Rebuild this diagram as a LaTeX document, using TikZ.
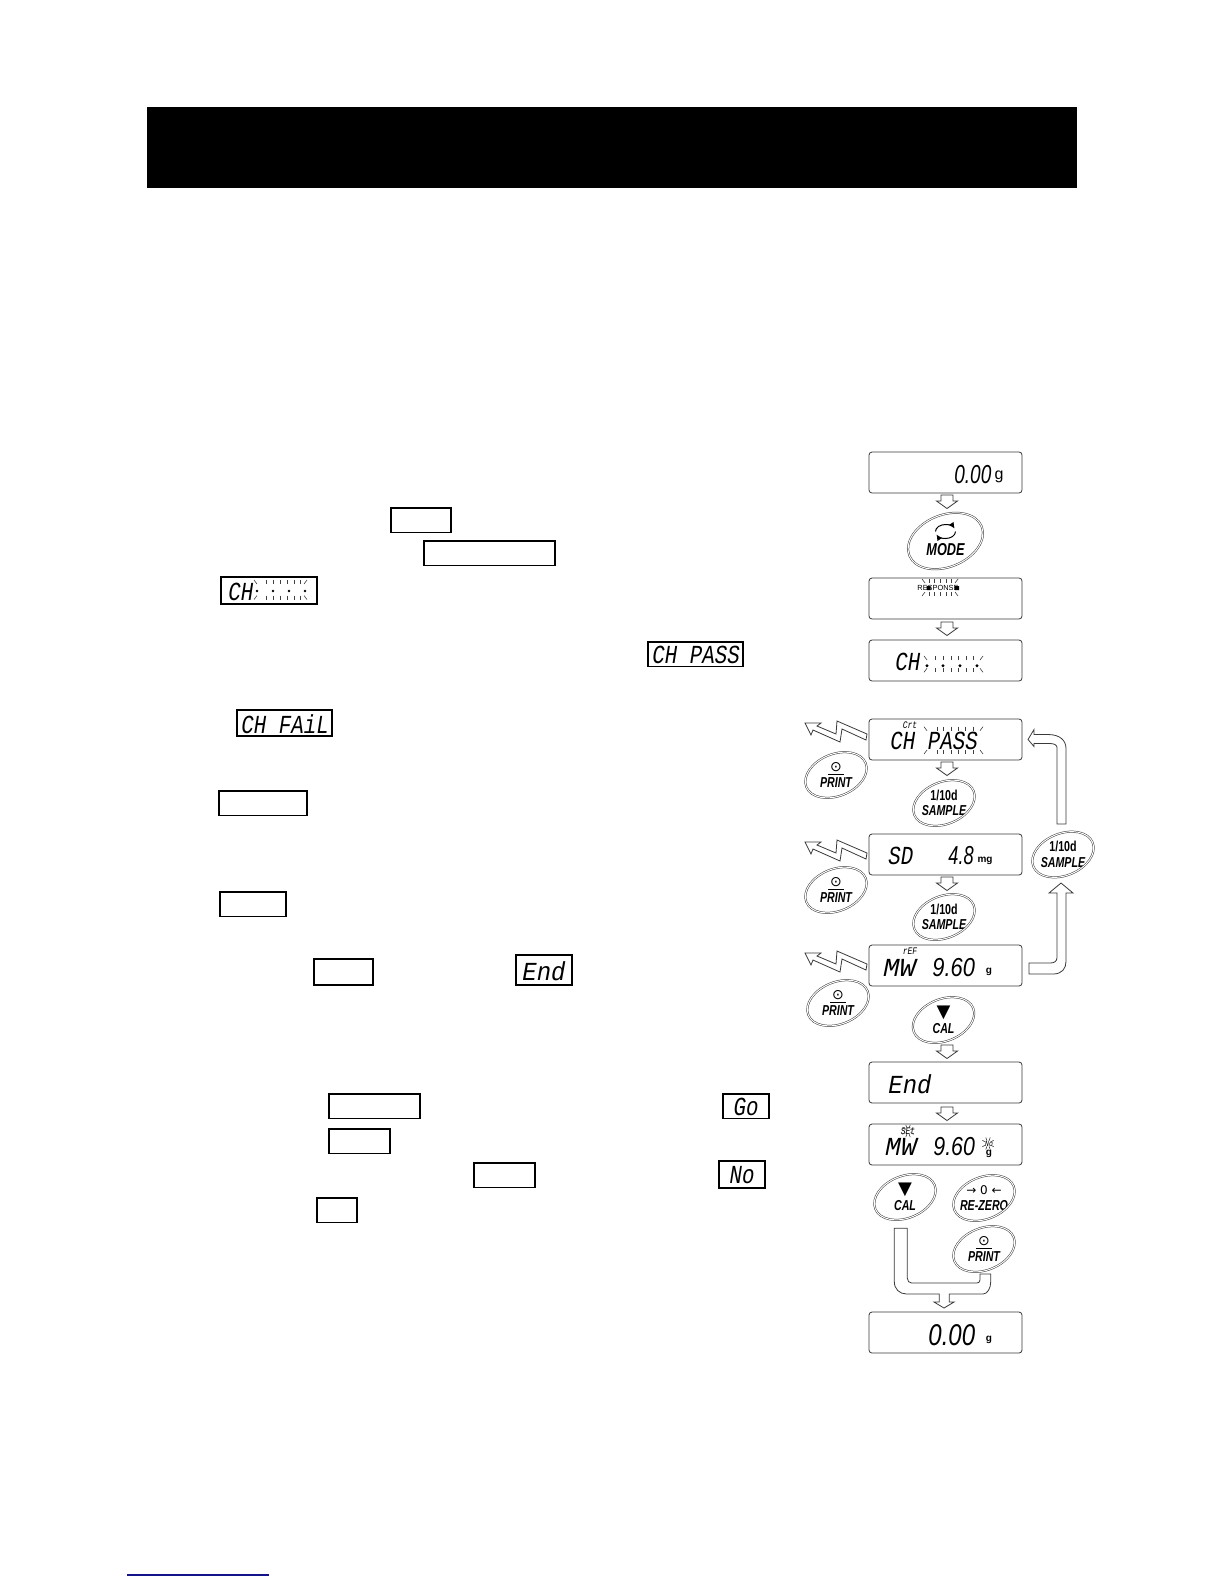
\documentclass[tikz,border=0pt]{standalone}
\usepackage{fontspec}
\setmainfont{Liberation Sans}
\newfontfamily\keyfont[FakeStretch=0.74]{Liberation Sans}
\newfontfamily\lcdfont[FakeStretch=0.8]{Liberation Mono}
\newfontfamily\symfont{DejaVu Sans}
\usetikzlibrary{arrows.meta,calc,positioning}
\definecolor{linkblue}{HTML}{14148A}
\definecolor{rim}{HTML}{3A3A3A}
\tikzset{
  lcd/.style={rounded corners=1.5bp,draw=rim,line width=.4bp,minimum width=76.5bp,minimum height=20.5bp,inner sep=0pt,outer sep=0pt},
  keybox/.style={draw=black,line width=.6bp,anchor=north west,minimum height=12.25bp,inner sep=0pt,outer sep=0pt},
  lcdtext/.style={inner sep=0pt,anchor=west,font=\lcdfont\itshape\fontsize{13bp}{13bp}\selectfont},
  numtext/.style={inner sep=0pt,anchor=west,font=\itshape\fontsize{13bp}{13bp}\selectfont},
  tinytext/.style={inner sep=0pt,font=\lcdfont\itshape\fontsize{5bp}{5bp}\selectfont},
  unittext/.style={inner sep=0pt,font=\bfseries\fontsize{5bp}{5bp}\selectfont},
  keytext/.style={inner sep=0pt,align=center,font=\keyfont\bfseries\itshape\fontsize{7.2bp}{7.8bp}\selectfont},
  keyrim/.style={draw=rim,line width=.25bp,double,double distance=.5bp},
  flowline/.style={draw=rim,line width=.4bp,fill=white},
  lcdtick/.style={draw=black!75,line width=.3bp},
  downflow/.pic={\draw[flowline] (-6,0)--(6,0)--(6,6)--(10.5,6)--(0,13.5)--(-10.5,6)--(-6,6)--cycle;},
  bolt/.pic={\draw[flowline] (0,0)--(16,0)--(12,3)--(31,11)--(32,-2)--(62,11)--(61,17)--(37,6)--(35,19)--(8,7)--(6,12)--cycle;}
}
\newcommand{\printmark}{\underline{\hbox to 8bp{\hss\symfont\mdseries\upshape\fontsize{7bp}{7bp}\selectfont ⊙\hss}}}
\newcommand{\caltri}{{\symfont\mdseries\upshape\fontsize{9bp}{7.8bp}\selectfont ▼}}
\newcommand{\squeeze}[2]{\scalebox{#1}[1]{#2}}
\newcommand{\blink}[5]{
  \draw[lcdtick] (#1-3,#3)--(#1,#3+4) (#2+3,#3)--(#2,#3+4) (#1,#4)--(#1-3,#4+4) (#2,#4)--(#2+3,#4+4);
  \foreach \tx in {#5} \draw[lcdtick] (\tx,#3)--+(0,4) (\tx,#4)--+(0,4);
}
\newcommand{\miniblink}[2]{
  \foreach \ang in {30,70,110,150,210,250,290,330} \draw[lcdtick] ($(#1,#2)+(\ang:3)$)--($(#1,#2)+(\ang:6.5)$);
}
\begin{document}
\begin{tikzpicture}[x=.5bp,y=-.5bp,>=Latex]
  \useasboundingbox (0,0) rectangle (1224,1584);
  \fill[white] (0,0) rectangle (1224,1584);
  \node[fill=black,minimum width=464.5bp,minimum height=40.5bp,inner sep=0pt] (header) at (612,147.5) {};

  \node[keybox,minimum width=30bp] (box1) at (391,508) {};
  \node[keybox,minimum width=65.5bp] (box2) at (424,541) {};
  \node[keybox,minimum width=48bp,minimum height=13.5bp] (chblink) at (221,577) {};
  \node[keybox,minimum width=47.5bp] (chpass) at (648,642) {};
  \node[keybox,minimum width=47.5bp,minimum height=13bp] (chfail) at (237,710) {};
  \node[keybox,minimum width=44bp] (box3) at (219,791) {};
  \node[keybox,minimum width=33bp] (box4) at (220,892) {};
  \node[keybox,minimum width=29.5bp,minimum height=13bp] (box5) at (314,959) {};
  \node[keybox,minimum width=28bp,minimum height=15bp] (endbox) at (516,955) {};
  \node[keybox,minimum width=45.5bp] (box6) at (329,1094) {};
  \node[keybox,minimum width=23bp] (gobox) at (723,1094) {};
  \node[keybox,minimum width=30.5bp] (box7) at (329,1129) {};
  \node[keybox,minimum width=30.5bp] (box8) at (474,1163) {};
  \node[keybox,minimum width=23bp,minimum height=13.5bp] (nobox) at (719,1161) {};
  \node[keybox,minimum width=20bp] (box9) at (317,1198) {};

  \node[lcdtext] (chblinkt) at ($(chblink.west)+(7,1)$) {CH};
  \node[lcdtext] (chpasst) at ($(chpass.west)+(4,1)$) {CH PASS};
  \node[lcdtext] (chfailt) at ($(chfail.west)+(4,1)$) {CH FAiL};
  \node[lcdtext,anchor=center] (endt) at ($(endbox.center)+(0,1)$) {\squeeze{1.15}{End}};
  \node[lcdtext,anchor=center] (got) at ($(gobox.center)+(0,1)$) {Go};
  \node[lcdtext,anchor=center] (not) at ($(nobox.center)+(0,1)$) {No};
  \blink{257}{304}{580}{595.5}{266,273,280,287,294,300}
  \foreach \dx in {257,273,289,305} \fill[black] (\dx,591) circle (.7bp);

  \node[lcd] (d1) at (945.5,472.5) {};
  \node[lcd,below=42.5bp of d1] (d2) {};
  \node[lcd,below=10.5bp of d2] (d3) {};
  \node[lcd,below=19bp of d3] (d4) {};
  \node[lcd,below=37bp of d4] (d5) {};
  \node[lcd,below=35bp of d5] (d6) {};
  \node[lcd,below=38bp of d6] (d7) {};
  \node[lcd,below=10.5bp of d7] (d8) {};
  \node[lcd,below=73.5bp of d8] (d9) {};

  \node[numtext] (d1num) at ($(d1.west)+(85,2.5)$) {\squeeze{.73}{0.00}};
  \node[unittext,font=\fontsize{8bp}{8bp}\selectfont] (d1unit) at ($(d1.west)+(130,4)$) {g};
  \node[inner sep=0pt,font=\fontsize{3.7bp}{4bp}\selectfont] (d2t) at ($(d2.west)+(69,-11)$) {RESPONSE};
  \blink{925}{955}{579}{592}{929,934,940,946,951}
  \fill[black] (926.5,586) rectangle +(4,4) (955,586) rectangle +(4,4);
  \node[lcdtext] (d3t) at ($(d3.west)+(26,1)$) {CH};
  \blink{927}{980}{656}{668.3}{935,943,951,958,966,973}
  \foreach \dx in {927,943,960,977} \fill[black] (\dx,665.7) circle (.8bp);
  \node[tinytext] (d4small) at ($(d4.west)+(41,-14.5)$) {Crt};
  \node[lcdtext] (d4t) at ($(d4.west)+(21,1.5)$) {CH PASS};
  \blink{927}{980}{726.7}{750}{937,943,951,958,965,973}
  \node[lcdtext] (d5t) at ($(d5.west)+(19,1)$) {SD};
  \node[numtext] (d5num) at ($(d5.west)+(79,1)$) {\squeeze{.7}{4.8}};
  \node[unittext] (d5unit) at ($(d5.west)+(116,6)$) {mg};
  \node[tinytext] (d6small) at ($(d6.west)+(41,-14)$) {rEF};
  \node[lcdtext] (d6t) at ($(d6.west)+(14,2)$) {\squeeze{1.3}{MW}};
  \node[numtext] (d6num) at ($(d6.west)+(63,2)$) {\squeeze{.84}{9.60}};
  \node[unittext] (d6unit) at ($(d6.west)+(120,6)$) {g};
  \node[lcdtext] (d7t) at ($(d7.west)+(19,2)$) {\squeeze{1.15}{End}};
  \node[tinytext] (d8small) at ($(d8.west)+(39,-13)$) {SEt};
  \miniblink{908}{1131}
  \node[lcdtext] (d8t) at ($(d8.west)+(16,2)$) {\squeeze{1.25}{MW}};
  \node[numtext] (d8num) at ($(d8.west)+(64,2)$) {\squeeze{.82}{9.60}};
  \node[tinytext,font=\lcdfont\itshape\fontsize{4bp}{4bp}\selectfont] (d8no) at ($(d8.west)+(120,-1)$) {No};
  \miniblink{988}{1143.5}
  \node[unittext] (d8unit) at ($(d8.west)+(120,9)$) {g};
  \node[numtext,font=\itshape\fontsize{15bp}{15bp}\selectfont] (d9num) at ($(d9.west)+(59,2.5)$) {\squeeze{.8}{0.00}};
  \node[unittext] (d9unit) at ($(d9.west)+(120,7)$) {g};

  \node[keytext,font=\keyfont\bfseries\itshape\fontsize{8.6bp}{9bp}\selectfont,below=28.5bp of d1.south,anchor=center] (mode) {MODE};
  \node[keytext,below left=7.5bp and 16.5bp of d4.south west,anchor=center] (print1) {\printmark\\PRINT};
  \node[keytext,below=21.5bp of d4.south,anchor=center,xshift=-.75bp] (sample1) {{\upshape 1/10d}\\SAMPLE};
  \node[keytext,below left=7.5bp and 16.5bp of d5.south west,anchor=center] (print2) {\printmark\\PRINT};
  \node[keytext,below=21bp of d5.south,anchor=center,xshift=-.75bp] (sample2) {{\upshape 1/10d}\\SAMPLE};
  \node[keytext,right=20.5bp of d5.east,anchor=center] (sample3) {{\upshape 1/10d}\\SAMPLE};
  \node[keytext,below left=8.5bp and 15.5bp of d6.south west,anchor=center] (print3) {\printmark\\PRINT};
  \node[keytext,below=17bp of d6.south,anchor=center,xshift=-1bp] (cal1) {\caltri\\CAL};
  \node[keytext,below left=16bp and 20.25bp of d8.south,anchor=center] (cal2) {\caltri\\CAL};
  \node[keytext,below right=16.5bp and 19.25bp of d8.south,anchor=center] (rezero) {{\symfont\mdseries\upshape\fontsize{6bp}{7.8bp}\selectfont → 0 ←}\\RE-ZERO};
  \node[keytext,below=25.5bp of rezero.center,anchor=center] (print4) {\printmark\\PRINT};

  \draw[keyrim] ($(mode)+(0,-9)$) circle [x radius=19.5bp,y radius=13bp,rotate=22];
  \foreach \k in {print1,print2,print3,print4,sample1,sample2,sample3,cal1,cal2,rezero}
    \draw[keyrim] (\k) circle [x radius=16bp,y radius=10.5bp,rotate=22];
  \draw[line width=.5bp,-{Latex[length=3bp,width=3bp]}] ($(mode)+(-10,-18.5)$) arc[start angle=180,end angle=25,x radius=5bp,y radius=3.5bp];
  \draw[line width=.5bp,-{Latex[length=3bp,width=3bp]}] ($(mode)+(10,-18.5)$) arc[start angle=0,end angle=-155,x radius=5bp,y radius=3.5bp];

  \pic at ($(d1.south)+(1.5,2)$) {downflow};
  \pic at ($(d2.south)+(1.5,3)$) {downflow};
  \pic at ($(d4.south)+(1.5,2)$) {downflow};
  \pic at ($(d5.south)+(1.5,2)$) {downflow};
  \pic at ($(d7.north)+(1.5,-17)$) {downflow};
  \pic at ($(d7.south)+(1.5,4)$) {downflow};
  \pic at ($(d4.west)+(-64,-16.5)$) {bolt};
  \pic at ($(d5.west)+(-64,-12.5)$) {bolt};
  \pic at ($(d6.west)+(-64,-12.5)$) {bolt};

  \draw[flowline,shift={(d6.east)}] (7,8.5)--(31,8.5) .. controls (40,8.5) and (44,3) .. (44,-4)--(44,-72.5)--(51,-72.5)--(39,-82.5)--(27,-72.5)--(35,-72.5)--(35,-8) .. controls (35,-4) and (32,-2.5) .. (28,-2.5)--(7,-2.5)--cycle;
  \draw[flowline,shift={(d4.east)}] (35,84.5)--(35,8) .. controls (35,5.5) and (32,4) .. (28,4)--(12,4)--(12,7)--(6,0)--(12,-10)--(12,-5)--(26,-5) .. controls (38,-5) and (44,1) .. (44,9)--(44,84.5)--cycle;
  \draw[flowline,shift={(d9.north)}] (-51.2,-83.7)--(-38.2,-83.7)--(-38.2,-34) .. controls (-38.2,-31) and (-36.5,-29) .. (-33.8,-29)--(31.2,-29) .. controls (33,-29) and (34.5,-30) .. (34.5,-32)--(34.5,-38)--(45.2,-38)--(45.2,-30) .. controls (45.2,-24) and (42,-18) .. (37.5,-18)--(3.8,-18)--(3.8,-10)--(8.5,-10)--(-1.5,-4)--(-11.5,-10)--(-6.2,-10)--(-6.2,-18)--(-38.8,-18) .. controls (-46,-18) and (-51.2,-23) .. (-51.2,-30.3)--cycle;

  \draw[linkblue,line width=.6bp] (127,1575)--(269,1575);
\end{tikzpicture}
\end{document}
